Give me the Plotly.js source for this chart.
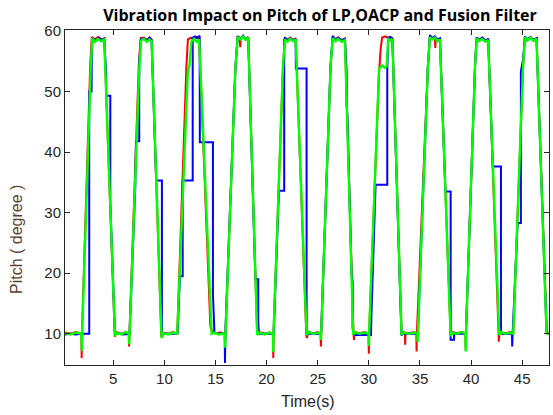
<!DOCTYPE html>
<html>
<head>
<meta charset="utf-8">
<script src="https://cdn.plot.ly/plotly-3.0.1.min.js"></script>
<style>html,body{margin:0;padding:0;background:#fff;}#chart{width:553px;height:415px;}</style>
</head>
<body>
<div id="chart"></div>
<script>
// ---- Data ----
const xTickVals = [5, 10, 15, 20, 25, 30, 35, 40, 45];
const yTickVals = [10, 20, 30, 40, 50, 60];

// Fusion filter (green)
const fusionTime = [
 0.28, 0.8, 1.3, 1.88, 1.92, 1.96,
 2.8, 2.95, 3.2, 3.5, 3.8, 4.12,
 5.17, 5.3, 5.8, 6.2, 6.52, 6.56, 6.6,
 7.55, 7.71, 8.0, 8.3, 8.55, 8.75,
 9.73, 9.85, 10.4, 10.8, 11.26,
 12.3, 12.45, 12.65, 12.9, 13.15, 13.4,
 14.62, 14.9, 15.3, 15.9, 15.95, 16.0,
 16.95, 17.17, 17.45, 17.7, 17.95, 18.2,
 19.08, 19.25, 19.8, 20.3, 20.62, 20.65, 20.68,
 21.6, 21.79, 22.05, 22.3, 22.6, 22.84,
 23.91, 24.1, 24.6, 25.0, 25.28, 25.31, 25.34,
 26.25, 26.46, 26.75, 27.0, 27.35, 27.66,
 28.47, 28.6, 29.1, 29.6, 29.97, 30.0, 30.03,
 31.0, 31.3, 31.55, 31.74, 31.9, 32.1, 32.3,
 33.2, 33.4, 33.9, 34.4, 34.74, 34.77, 34.8,
 35.77, 35.97, 36.2, 36.45, 36.7, 36.95,
 38.0, 38.15, 38.6, 39.1, 39.44, 39.47, 39.5,
 40.38, 40.54, 40.8, 41.1, 41.4, 41.67,
 42.75, 42.9, 43.4, 43.8, 44.12,
 45.08, 45.26, 45.5, 45.8, 46.1, 46.4,
 47.38, 47.5, 47.62];
const fusionPitch = [
 10.1, 9.9, 10.2, 10.0, 7.2, 10.3,
 54.0, 58.8, 58.2, 58.7, 58.3, 58.6,
 9.6, 10.2, 9.9, 10.3, 10.0, 8.3, 10.2,
 54.0, 58.4, 58.7, 58.2, 58.6, 58.3,
 9.3, 10.1, 9.9, 10.2, 10.0,
 53.6, 54.2, 58.3, 58.7, 58.2, 58.6,
 10.0, 10.2, 9.9, 10.1, 7.7, 11.0,
 54.0, 59.0, 58.6, 59.1, 58.5, 58.9,
 9.8, 10.2, 9.9, 10.2, 10.0, 7.0, 10.3,
 54.0, 58.6, 58.2, 58.7, 58.3, 58.6,
 9.8, 10.3, 10.0, 10.2, 10.0, 9.0, 10.3,
 54.0, 58.8, 58.3, 58.7, 58.2, 58.5,
 9.8, 10.3, 10.0, 10.2, 10.0, 8.0, 10.3,
 53.8, 54.3, 53.9, 54.2, 58.8, 58.4, 58.7,
 9.8, 10.2, 10.0, 10.2, 10.0, 8.6, 10.3,
 54.0, 59.0, 58.6, 58.9, 58.3, 58.6,
 9.6, 10.2, 10.0, 10.3, 10.0, 7.1, 10.3,
 54.0, 58.8, 58.3, 58.7, 58.2, 58.5,
 9.8, 10.3, 10.0, 10.2, 10.0,
 54.0, 59.0, 58.4, 58.9, 58.3, 58.7,
 10.1, 10.0, 10.1];

// LP filter (red)
const lpTime = [
 0.28, 0.8, 1.3, 1.88, 1.91, 1.94,
 2.75, 2.9, 3.2, 3.5, 3.8, 4.12,
 5.15, 5.3, 5.8, 6.2, 6.52, 6.55, 6.59,
 7.5, 7.68, 8.0, 8.3, 8.55, 8.75,
 9.7, 9.85, 10.4, 10.8, 11.26,
 12.15, 12.3, 12.6, 12.9, 13.15, 13.4,
 14.5, 14.75, 15.0, 15.5, 15.9, 15.95, 16.0,
 16.95, 17.17, 17.38, 17.42, 17.46, 17.7, 17.95, 18.2,
 19.08, 19.25, 19.8, 20.3, 20.62, 20.65, 20.68,
 21.6, 21.79, 22.05, 22.3, 22.6, 22.84,
 23.88, 23.93, 24.1, 24.6, 25.0, 25.28, 25.31, 25.34,
 26.25, 26.46, 26.75, 27.0, 27.35, 27.66,
 28.5, 28.55, 28.6, 29.1, 29.6, 29.97, 30.0, 30.03,
 30.98, 31.15, 31.3, 31.6, 31.9, 32.1, 32.3,
 33.2, 33.4, 33.52, 33.55, 33.58, 33.9, 34.4, 34.64, 34.67, 34.7,
 35.77, 35.97, 36.2, 36.46, 36.5, 36.54, 36.7, 36.95,
 38.0, 38.15, 38.6, 39.1, 39.44, 39.47, 39.5,
 40.38, 40.54, 40.8, 41.1, 41.4, 41.67,
 42.68, 42.71, 42.78, 42.9, 43.4, 43.8, 44.12,
 45.08, 45.26, 45.5, 45.8, 46.1, 46.4,
 47.4, 47.5, 47.62];
const lpPitch = [
 10.2, 10.0, 10.3, 10.1, 6.0, 10.2,
 54.5, 59.0, 58.6, 59.0, 58.5, 58.8,
 9.5, 10.3, 10.0, 10.2, 10.1, 7.9, 10.2,
 54.5, 58.8, 58.9, 58.5, 58.9, 58.6,
 9.5, 10.2, 10.0, 10.3, 10.1,
 54.0, 58.6, 58.9, 58.6, 59.0, 58.8,
 11.2, 10.3, 10.1, 10.2, 10.0, 9.0, 11.0,
 54.0, 59.1, 58.8, 57.3, 58.8, 59.2, 58.6, 59.0,
 9.9, 10.3, 10.0, 10.2, 10.0, 6.0, 10.3,
 54.0, 58.9, 58.5, 58.9, 58.5, 58.8,
 9.8, 9.3, 10.3, 10.1, 10.3, 10.1, 7.9, 10.3,
 54.0, 59.0, 58.6, 58.9, 58.5, 58.7,
 10.0, 9.0, 10.3, 10.1, 10.3, 10.1, 6.7, 10.3,
 52.5, 57.0, 58.9, 59.1, 58.8, 58.6, 58.9,
 9.9, 10.3, 10.1, 8.2, 10.2, 10.1, 10.3, 10.1, 7.1, 10.3,
 54.0, 59.0, 58.7, 58.8, 57.2, 58.8, 58.5, 58.7,
 9.8, 10.3, 10.1, 10.3, 10.1, 7.5, 10.3,
 54.0, 58.9, 58.5, 58.9, 58.4, 58.6,
 10.5, 8.7, 10.4, 10.2, 10.1, 10.3, 10.1,
 54.0, 59.0, 58.6, 59.0, 58.5, 58.8,
 10.6, 10.1, 10.2];

// OACP filter (blue)
const oacpTime = [
 0.28, 0.8, 1.3, 1.91, 2.65, 2.65, 2.88, 2.9, 2.97, 3.3, 3.6, 3.9, 4.12, 4.3, 4.3, 4.71, 4.71, 5.17,
 5.3, 6.0, 6.56, 6.6, 7.15, 7.22, 7.54, 7.54, 7.71, 8.0, 8.3, 8.55, 8.75, 9.2, 9.76, 9.76, 9.9,
 10.4, 11.26, 11.3, 11.52, 11.79, 11.79, 12.77, 12.77, 13.0, 13.2, 13.45, 13.47, 14.75, 14.75, 14.9,
 15.4, 15.9, 15.93, 15.97, 16.95, 17.17, 17.45, 17.7, 17.95, 18.2, 18.9, 19.18, 19.18, 19.25,
 19.8, 20.65, 20.7, 21.2, 21.72, 21.72, 21.79, 22.05, 22.3, 22.6, 22.84, 22.86, 23.91, 23.91, 24.0,
 24.6, 25.31, 25.34, 26.25, 26.46, 26.75, 27.0, 27.35, 27.66, 27.83, 27.83, 27.9, 28.3, 28.41, 28.41, 28.5,
 28.64, 29.4, 30.21, 30.25, 30.66, 31.8, 31.8, 31.9, 32.1, 32.3, 33.1, 33.2, 33.3,
 33.9, 34.77, 34.8, 35.77, 35.97, 36.2, 36.45, 36.7, 36.95, 37.49, 38.0, 38.0, 38.33, 38.35,
 39.0, 39.47, 39.5, 40.38, 40.54, 40.8, 41.1, 41.4, 41.67, 42.13, 42.92, 42.92, 43.0,
 43.5, 44.0, 44.02, 44.06, 44.55, 44.87, 44.87, 45.1, 45.26, 45.5, 45.8, 46.1, 46.4, 47.38, 47.5, 47.62];
const oacpPitch = [
 9.9, 10.0, 9.9, 10.0, 10.0, 50.0, 50.0, 57.0, 58.8, 58.4, 58.9, 58.5, 58.7, 53.0, 49.3, 49.3, 31.7, 10.0,
 10.1, 9.9, 10.0, 10.2, 34.0, 41.8, 41.8, 55.0, 58.6, 58.8, 58.4, 58.9, 58.5, 35.3, 35.3, 9.6, 10.0,
 10.0, 10.0, 10.2, 19.5, 19.5, 35.3, 35.3, 58.9, 59.1, 58.8, 59.2, 41.6, 41.6, 16.5, 10.1,
 10.0, 10.0, 5.2, 10.5, 54.0, 59.1, 58.7, 59.2, 58.6, 58.9, 19.0, 19.0, 12.0, 10.0,
 10.0, 10.0, 10.4, 33.6, 33.6, 58.5, 58.8, 58.4, 58.8, 58.4, 58.7, 53.8, 53.8, 10.2, 10.0,
 10.0, 10.0, 10.3, 54.0, 59.2, 58.5, 58.9, 58.4, 58.7, 53.0, 47.8, 46.0, 20.2, 18.6, 11.0, 10.0,
 9.8, 9.8, 9.8, 13.0, 34.6, 34.6, 53.8, 58.9, 59.0, 58.7, 14.4, 9.7, 10.0,
 10.0, 10.0, 10.3, 54.0, 59.3, 58.8, 59.1, 58.6, 58.8, 33.5, 33.5, 9.0, 9.0, 10.0,
 10.0, 10.0, 10.3, 54.0, 58.9, 58.5, 58.9, 58.4, 58.7, 37.6, 37.6, 10.1, 10.0,
 10.0, 10.0, 7.9, 10.0, 28.3, 28.3, 53.3, 55.5, 59.1, 58.6, 59.0, 58.5, 58.8, 10.2, 10.0, 10.1];

const titleText = 'Vibration Impact on Pitch of LP,OACP and Fusion Filter';
const xTitleText = 'Time(s)';
const yTitleText = 'Pitch ( degree )';

const traces = [
  {x: lpTime, y: lpPitch, name: 'LP', type: 'scatter', mode: 'lines',
   line: {color: '#ff0000', width: 2, simplify: false}},
  {x: oacpTime, y: oacpPitch, name: 'OACP', type: 'scatter', mode: 'lines',
   line: {color: '#0000ff', width: 2, simplify: false}},
  {x: fusionTime, y: fusionPitch, name: 'Fusion', type: 'scatter', mode: 'lines',
   line: {color: '#00ff00', width: 2.4, simplify: false}}
];

const axisCommon = {
  showgrid: false, zeroline: false, showline: true, linecolor: '#262626', linewidth: 1,
  mirror: 'ticks', ticks: 'inside', ticklen: 5, tickcolor: '#262626', tickwidth: 1,
  tickfont: {family: 'Liberation Sans, Arial, sans-serif', size: 15, color: '#262626'}
};

const layout = {
  width: 553, height: 415,
  margin: {l: 65, r: 4, t: 30, b: 50},
  paper_bgcolor: '#ffffff', plot_bgcolor: '#ffffff',
  showlegend: false,
  title: {text: titleText, x: 320/553, xanchor: 'center', xref: 'container',
          y: 1 - 15/415, yref: 'container', yanchor: 'middle',
          font: {family: 'Open Sans, sans-serif', size: 16, weight: 'bold', color: '#000000'}},
  xaxis: Object.assign({}, axisCommon, {range: [0.28, 47.62], tickvals: xTickVals, ticktext: xTickVals.map(String)}),
  yaxis: Object.assign({}, axisCommon, {range: [4.85, 60.15], tickvals: yTickVals, ticktext: yTickVals.map(String)}),
  annotations: [
    {text: xTitleText, xref: 'paper', yref: 'paper', x: (308-65)/484, y: (365-401)/335,
     xanchor: 'center', yanchor: 'middle', showarrow: false,
     font: {family: 'Liberation Sans, Arial, sans-serif', size: 16, color: '#262626'}},
    {text: yTitleText, xref: 'paper', yref: 'paper', x: (16-65)/484, y: (365-240)/335,
     xanchor: 'center', yanchor: 'middle', showarrow: false, textangle: -90,
     font: {family: 'Liberation Sans, Arial, sans-serif', size: 16, color: '#5a4030'}}
  ]
};

Plotly.newPlot('chart', traces, layout, {staticPlot: true, displayModeBar: false});
</script>
</body>
</html>
